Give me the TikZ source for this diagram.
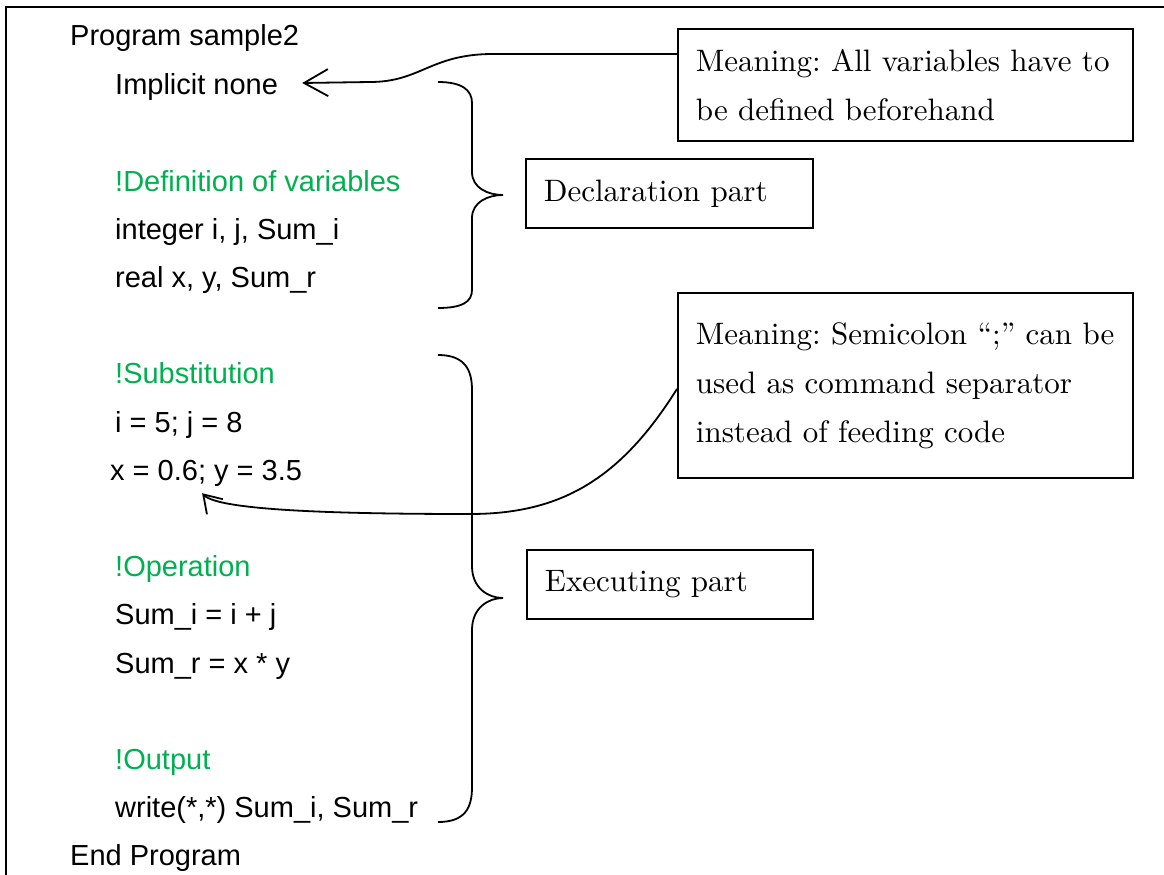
\documentclass[tikz,border=0pt]{standalone}
\usepackage{fontspec}
\newfontfamily\codefont{Liberation Sans}
\newfontfamily\notefont[Extension=.otf, Ligatures=TeX]{lmroman10-regular}
\usetikzlibrary{arrows.meta,positioning,calc}
\definecolor{cmtgreen}{RGB}{0,176,80}

\tikzset{
  code/.style={anchor=base west, inner sep=0pt, font=\codefont\fontsize{29}{35}\selectfont},
  cmt/.style={code, text=cmtgreen},
  note/.style={draw, line width=1.8pt, anchor=north west, inner xsep=18pt, inner ysep=0pt,
    align=left, font=\notefont\fontsize{31}{49}\selectfont\frenchspacing},
  brace/.style={line width=1.8pt},
  callout/.style={line width=1.8pt, -{Straight Barb[length=24pt,width=27pt]}},
  callouttwo/.style={line width=1.8pt, -{Straight Barb[length=17pt,width=22pt]}}
}

\begin{document}
\begin{tikzpicture}[x=1pt, y=-1pt]
  \useasboundingbox (0,0) rectangle (1164,875);
  \draw[line width=2.5pt] (1164,7) -- (6,7) -- (6,875);

  % the program
  \node (prog) at (70,46) [code] {Program sample2};
  \node (impl) at (115,94) [code] {Implicit none};
  \node (cdef) at (115,191) [cmt] {!Definition of variables};
  \node (vint) at (115,239) [code] {integer i, j, Sum\_i};
  \node (vreal) at (115,287) [code] {real x, y, Sum\_r};
  \node (csub) at (115,383) [cmt] {!Substitution};
  \node (asgi) at (115,432) [code] {i = 5; j = 8};
  \node (asgx) at (110,480) [code] {x = 0.6; y = 3.5};
  \node (cop) at (115,576) [cmt] {!Operation};
  \node (sumi) at (115,624) [code] {Sum\_i = i + j};
  \node (sumr) at (115,673) [code] {Sum\_r = x * y};
  \node (cout) at (115,769) [cmt] {!Output};
  \node (wrt) at (115,817) [code] {write(*,*) Sum\_i, Sum\_r};
  \node (endp) at (70,865) [code] {End Program};

  % notes
  \node (mean1) at (677,28) [note, text width=419pt, minimum height=112pt] {Meaning: All variables have to\\be defined beforehand};
  \node (decl) at (525,158) [note, text width=251pt, minimum height=69pt] {Declaration part};
  \node (mean2) at (677,292) [note, text width=419pt, minimum height=185pt] {Meaning: Semicolon ``;'' can be\\used as command separator\\instead of feeding code};
  \node (exec) at (526,549) [note, text width=250pt, minimum height=69pt] {Executing part};

  % braces
  \draw[brace] (438,82) .. controls (462,82) and (472,90) .. (472,103) -- (472,172)
    .. controls (472,188) and (488,195) .. (503,195) .. controls (488,195) and (472,202) .. (472,218)
    -- (472,290) .. controls (472,302) and (462,308) .. (438,308);
  \draw[brace] (438,355) .. controls (465,355) and (472,370) .. (472,390) -- (472,566)
    .. controls (472,588) and (488,598) .. (503,598) .. controls (488,598) and (472,608) .. (472,630)
    -- (472,787) .. controls (472,808) and (465,822) .. (438,822);

  \draw[callout] ([yshift=31pt]mean1.west) -- (490,54) .. controls (430,55) and (420,82) .. (370,82)
    -- ([xshift=24pt,yshift=3.5pt]impl.east);
  \draw[callouttwo] ([yshift=-3.5pt]mean2.west) .. controls (620,480) and (560,514) .. (470,514)
    .. controls (330,514) and (218,510) .. ([xshift=-4pt,yshift=-7pt]asgx.south);
\end{tikzpicture}
\end{document}
